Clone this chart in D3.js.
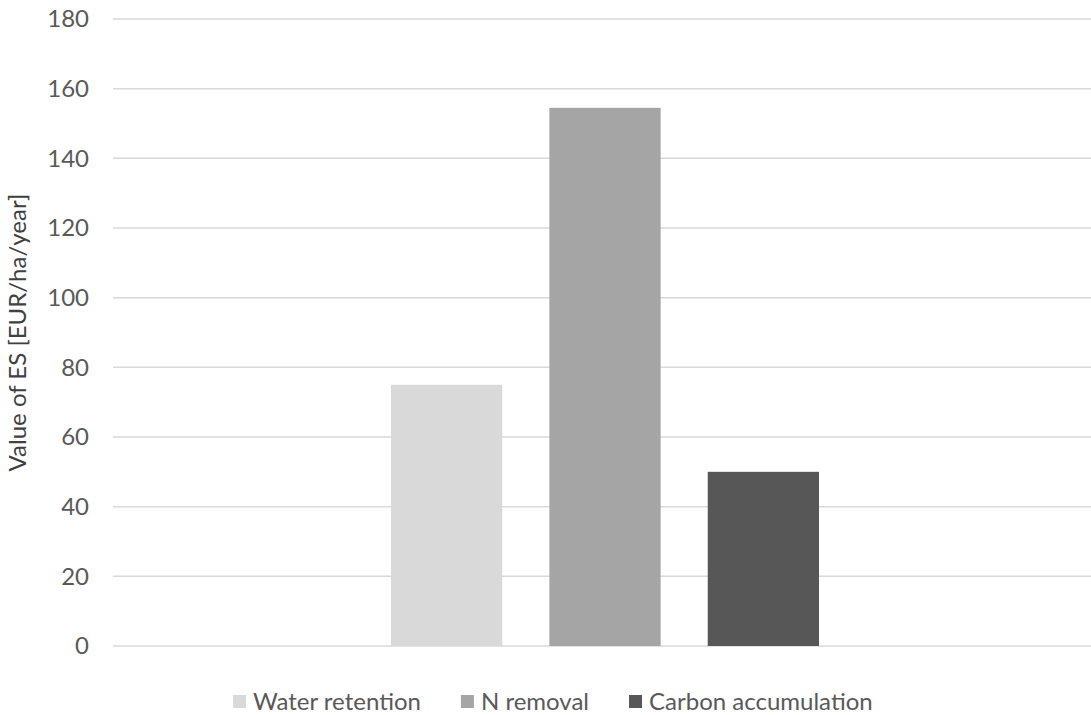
<!DOCTYPE html>
<html>
<head>
<meta charset="utf-8">
<script src="https://cdn.jsdelivr.net/npm/d3@7"></script>
<style>
  html, body { margin: 0; padding: 0; background: #ffffff; }
  svg { display: block; }
  text { font-family: Lato, "Open Sans", sans-serif; }
</style>
</head>
<body>
<svg id="chart" width="1091" height="715"></svg>
<script>
const categories = ["Water retention", "N removal", "Carbon accumulation"];
const values = [75, 154.5, 50];
const colors = ["#d9d9d9", "#a5a5a5", "#575757"];
const yTicks = [0, 20, 40, 60, 80, 100, 120, 140, 160, 180];
const yTitle = "Value of ES [EUR/ha/year]";

const W = 1091, H = 715;
const plot = { left: 113, right: 1091, top: 19, bottom: 646 };
const groupRange = [391, 819];
const fontSize = 24;
const textColor = "#595959";

const svg = d3.select("#chart");

const y = d3.scaleLinear().domain([0, 180]).range([plot.bottom, plot.top]);
const x = d3.scaleBand().domain(categories).range(groupRange).paddingInner(0.2975).paddingOuter(0);

// gridlines
svg.append("g").selectAll("line").data(yTicks).join("line")
  .attr("x1", plot.left).attr("x2", plot.right)
  .attr("y1", d => y(d)).attr("y2", d => y(d))
  .attr("stroke", "#d9d9d9").attr("stroke-width", 1.5);

// y axis labels
const yAxis = d3.axisLeft(y).tickValues(yTicks).tickSize(0).tickPadding(0);
const ya = svg.append("g").attr("transform", `translate(89,0)`).call(yAxis);
ya.select(".domain").remove();
ya.selectAll("text").attr("font-size", fontSize).attr("fill", textColor)
  .style("font-family", "Lato, 'Open Sans', sans-serif");

// bars
svg.append("g").selectAll("rect").data(categories).join("rect")
  .attr("x", d => x(d))
  .attr("width", x.bandwidth())
  .attr("y", (d, i) => y(values[i]))
  .attr("height", (d, i) => y(0) - y(values[i]))
  .attr("fill", (d, i) => colors[i]);

// y title
svg.append("text")
  .attr("transform", `translate(26,${(plot.top + plot.bottom) / 2}) rotate(-90)`)
  .attr("text-anchor", "middle")
  .attr("font-size", fontSize)
  .attr("fill", "#404040")
  .text(yTitle);

// legend
const legend = svg.append("g");
let lx = 233;
const ly = 702;
categories.forEach((c, i) => {
  legend.append("rect").attr("x", lx).attr("y", ly - 7).attr("width", 13).attr("height", 13).attr("fill", colors[i]);
  const t = legend.append("text").attr("x", lx + 20).attr("y", ly).attr("dy", "0.35em")
    .attr("font-size", fontSize).attr("fill", textColor).text(c);
  lx += 20 + t.node().getComputedTextLength() + 40;
});
</script>
</body>
</html>
